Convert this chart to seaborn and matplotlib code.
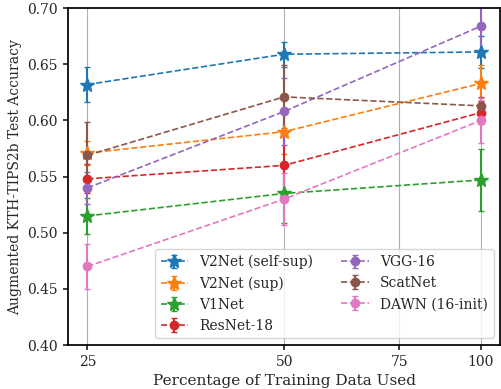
import seaborn as sns
import matplotlib.pyplot as plt
import matplotlib.ticker as mticker
import numpy as np

pct = [25, 50, 100]
models = ['V2Net (self-sup)', 'V2Net (sup)', 'V1Net', 'ResNet-18',
          'VGG-16', 'ScatNet', 'DAWN (16-init)']
markers = ['*', '*', '*', 'o', 'o', 'o', 'o']

v2_self = [0.632, 0.659, 0.661]
v2_sup = [0.571, 0.590, 0.633]
v1net = [0.515, 0.535, 0.547]
resnet = [0.548, 0.560, 0.607]
vgg = [0.540, 0.608, 0.684]
scatnet = [0.569, 0.621, 0.613]
dawn = [0.470, 0.530, 0.600]

v2_self_err = [0.016, 0.011, 0.014]
v2_sup_err = [0.011, 0.020, 0.016]
v1net_err = [0.016, 0.026, 0.028]
resnet_err = [0.013, 0.030, 0.010]
vgg_err = [0.014, 0.030, 0.022]
scatnet_err = [0.030, 0.028, 0.008]
dawn_err = [0.020, 0.023, 0.020]

means = [v2_self, v2_sup, v1net, resnet, vgg, scatnet, dawn]
errs = [v2_self_err, v2_sup_err, v1net_err, resnet_err, vgg_err, scatnet_err, dawn_err]

sns.set_theme(style='ticks', rc={'xtick.major.size': 3.5, 'ytick.major.size': 3.5,
                                 'xtick.major.pad': 3.5, 'ytick.major.pad': 3.5})
plt.rcParams['font.family'] = ['DejaVu Serif']

fig = plt.figure(figsize=(5.02, 3.89), dpi=100)
ax = fig.add_axes([0.135, 0.113, 0.862, 0.866])
colors = sns.color_palette('tab10')

for i, name in enumerate(models):
    ms = 10 if markers[i] == '*' else 6
    ax.errorbar(pct, means[i], yerr=errs[i], color=colors[i], marker=markers[i],
                markersize=ms, linestyle='--', linewidth=1.2, capsize=2,
                elinewidth=1.5, label=name)

ax.set_xscale('log')
ax.set_xticks([25, 50, 75, 100])
ax.xaxis.set_major_formatter(mticker.ScalarFormatter())
ax.xaxis.set_minor_locator(mticker.NullLocator())
ax.set_ylim(0.40, 0.70)
ax.set_yticks(np.arange(0.40, 0.701, 0.05))
ax.yaxis.set_major_formatter(mticker.FormatStrFormatter('%.2f'))
ax.grid(axis='x', color='#b0b0b0', linewidth=0.8)
ax.tick_params(labelsize=10)
for s in ax.spines.values():
    s.set_color('black')
ax.set_xlabel('Percentage of Training Data Used', fontsize=11)
ax.set_ylabel('Augmented KTH-TIPS2b Test Accuracy', fontsize=10)
ax.legend(ncol=2, loc='lower right', fontsize=10, framealpha=0.8)

plt.savefig('out.png', dpi=100)
